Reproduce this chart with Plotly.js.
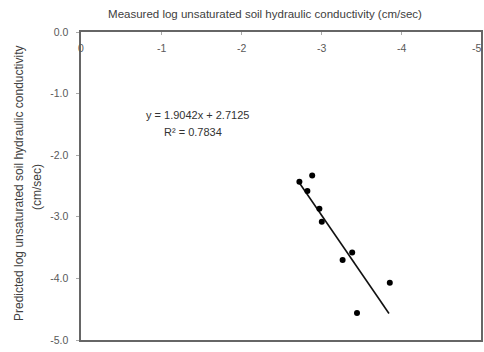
<!DOCTYPE html>
<html>
<head>
<meta charset="utf-8">
<script src="https://cdn.plot.ly/plotly-3.0.1.min.js"></script>
<style>html,body{margin:0;padding:0;background:#fff;overflow:hidden;}#chart{width:484px;height:352px;}</style>
</head>
<body>
<div id="chart"></div>
<script>
// Measured vs predicted log unsaturated hydraulic conductivity
var measured  = [-2.73, -2.89, -2.83, -2.98, -3.01, -3.39, -3.27, -3.86, -3.45];
var predicted = [-2.43, -2.33, -2.58, -2.87, -3.08, -3.58, -3.70, -4.07, -4.56];
// Trendline endpoints
var trendX = [-2.72, -3.85];
var trendY = [-2.43, -4.57];
var xTickVals = [0, -1, -2, -3, -4, -5];
var xTickText = ["0", "-1", "-2", "-3", "-4", "-5"];
var yTickVals = [0, -1, -2, -3, -4, -5];
var yTickText = ["0.0", "-1.0", "-2.0", "-3.0", "-4.0", "-5.0"];
var titleText = "Measured log unsaturated soil hydraulic conductivity (cm/sec)";
var yTitle1 = "Predicted log unsaturated soil hydraulic conductivity";
var yTitle2 = "(cm/sec)";
var eqText = "y = 1.9042x + 2.7125";
var r2Text = "R\u00b2 = 0.7834";

var FONT = "Liberation Sans, Arial, sans-serif";
var W = 484, H = 352, L = 81, R = 481, T = 32, B = 340;

var traces = [
  {x: trendX, y: trendY, mode: "lines", type: "scatter",
   line: {color: "#111", width: 1.6}, hoverinfo: "skip", showlegend: false},
  {x: measured, y: predicted, mode: "markers", type: "scatter",
   marker: {color: "#000", size: 6}, showlegend: false}
];

function px2paperX(px){ return (px - L) / (R - L); }
function px2paperY(py){ return (B - py) / (B - T); }

var annotations = [
  {text: eqText, xref: "paper", yref: "paper", x: px2paperX(197), y: px2paperY(115),
   showarrow: false, xanchor: "center", yanchor: "middle",
   font: {family: FONT, size: 11, color: "#333"}},
  {text: r2Text, xref: "paper", yref: "paper", x: px2paperX(193), y: px2paperY(132),
   showarrow: false, xanchor: "center", yanchor: "middle",
   font: {family: FONT, size: 11, color: "#333"}},
  {text: yTitle1, xref: "paper", yref: "paper", x: px2paperX(19), y: px2paperY(184),
   showarrow: false, xanchor: "center", yanchor: "middle", textangle: -90,
   font: {family: FONT, size: 12, color: "#404040"}},
  {text: yTitle2, xref: "paper", yref: "paper", x: px2paperX(37), y: px2paperY(187),
   showarrow: false, xanchor: "center", yanchor: "middle", textangle: -90,
   font: {family: FONT, size: 12, color: "#404040"}}
];
// x tick labels placed just below the top axis, positioned through the x scale
for (var i = 0; i < xTickVals.length; i++) {
  var last = (i === xTickVals.length - 1);
  annotations.push({text: xTickText[i], xref: "x", yref: "paper", x: xTickVals[i],
    y: px2paperY(48), showarrow: false, xanchor: last ? "right" : "center",
    xshift: last ? 2 : 0, yanchor: "middle",
    font: {family: FONT, size: 10.5, color: "#595959"}});
}

var layout = {
  width: W, height: H,
  margin: {l: L, r: W - R, t: T, b: H - B, pad: 0},
  paper_bgcolor: "#fff", plot_bgcolor: "#fff",
  showlegend: false,
  font: {family: FONT, size: 10.5, color: "#595959"},
  title: {text: titleText, font: {family: FONT, size: 11.5, color: "#404040"},
          xref: "container", x: 265 / W, xanchor: "center",
          yref: "container", y: 1 - 14 / H, yanchor: "middle"},
  xaxis: {range: [0, -5], side: "top", tickvals: xTickVals, ticktext: xTickText,
          showticklabels: false, ticks: "inside", ticklen: 3, tickcolor: "#aaa",
          showgrid: false, zeroline: false, showline: true, mirror: true,
          linecolor: "#666", linewidth: 1.6},
  yaxis: {range: [-5, 0], tickvals: yTickVals, ticktext: yTickText,
          ticks: "outside", ticklen: 3, tickcolor: "#aaa", ticklabelstandoff: 6,
          showgrid: false, zeroline: false, showline: true, mirror: true,
          linecolor: "#666", linewidth: 1.6, tickfont: {size: 10.5, color: "#595959"}},
  annotations: annotations
};

Plotly.newPlot("chart", traces, layout, {displayModeBar: false, staticPlot: true});
</script>
</body>
</html>
